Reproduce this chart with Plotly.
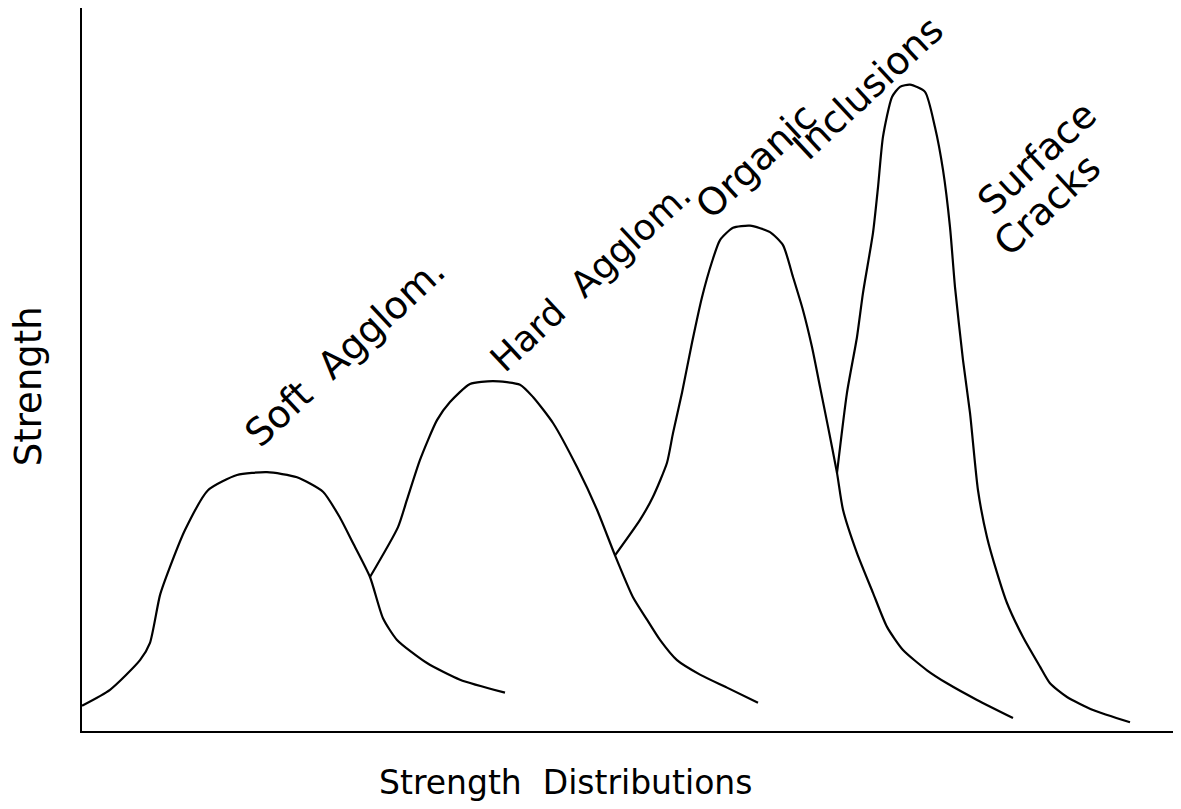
import plotly.graph_objects as go

# Strength distributions (arbitrary units)
soft_x = [0, 2.8, 5.8, 6.8, 7.8, 8.8, 10.3, 12.6, 15.5, 18.5, 21.5, 24.1, 25.8, 27.1, 28.8, 30.1, 31.5, 34.5, 37.8, 42.3]
soft_y = [3.5, 5.7, 9.8, 12.2, 18.8, 22.7, 27.8, 33.3, 35.4, 35.8, 35.1, 33.1, 29.5, 26.0, 21.3, 15.6, 12.6, 9.4, 7.1, 5.3]

hard_x = [28.8, 31.6, 32.5, 33.8, 35.5, 36.8, 38.8, 41.1, 43.8, 45.1, 47.1, 49.5, 51.5, 53.3, 55.1, 56.5, 57.8, 59.5, 61.8, 64.5, 67.6]
hard_y = [21.3, 28.2, 32.0, 37.5, 43.0, 45.5, 48.0, 48.4, 47.9, 46.2, 42.6, 36.5, 30.6, 24.3, 18.5, 15.4, 12.6, 9.8, 7.8, 6.0, 3.9]

organic_x = [53.3, 55.8, 57.1, 58.5, 59.1, 60.0, 61.0, 62.0, 63.0, 63.8, 65.1, 66.8, 68.8, 70.1, 71.1, 72.1, 73.0, 73.8, 74.6, 75.5, 76.1, 77.5, 79.1, 80.5, 82.1, 84.5, 86.5, 89.5, 93.1]
organic_y = [24.3, 29.2, 32.4, 37.1, 41.2, 46.8, 53.7, 60.0, 64.9, 67.9, 69.6, 69.9, 69.0, 67.2, 62.8, 58.2, 53.1, 47.6, 42.1, 35.7, 30.6, 24.6, 19.1, 14.4, 11.2, 8.4, 6.6, 4.3, 1.8]

cracks_x = [75.5, 76.5, 77.5, 78.1, 79.1, 79.6, 80.1, 81.0, 81.8, 82.8, 84.3, 85.3, 86.1, 86.8, 87.3, 88.1, 88.8, 89.6, 90.5, 91.5, 92.5, 94.1, 95.8, 96.8, 98.5, 101.1, 104.8]
cracks_y = [35.7, 46.8, 54.5, 60.6, 68.9, 75.2, 82.2, 87.7, 89.1, 89.4, 88.4, 83.5, 77.6, 69.7, 61.4, 51.3, 44.0, 33.3, 26.8, 21.9, 17.7, 13.0, 8.9, 6.6, 4.7, 2.9, 1.2]

label_texts = ["Soft  Agglom.", "Hard  Agglom.", "Organic", "Inclusions", "Surface", "Cracks"]
label_x = [26.3, 50.9, 67.4, 78.6, 95.5, 96.5]
label_y = [52.4, 62.8, 78.9, 88.9, 79.2, 72.8]
label_size = [38, 36, 38, 38, 38, 38]

x_title = "Strength  Distributions"
y_title = "Strength"

FONT = "DejaVu Sans"

fig = go.Figure()
for xs, ys, name in [(soft_x, soft_y, "Soft Agglom."), (hard_x, hard_y, "Hard Agglom."),
                     (organic_x, organic_y, "Organic Inclusions"), (cracks_x, cracks_y, "Surface Cracks")]:
    fig.add_trace(go.Scatter(x=xs, y=ys, mode="lines", name=name,
                             line=dict(color="black", width=2.2, shape="spline", smoothing=0.6),
                             hoverinfo="skip"))

for t, lx, ly, sz in zip(label_texts, label_x, label_y, label_size):
    fig.add_annotation(x=lx, y=ly, xref="x", yref="y", text=t, showarrow=False,
                       textangle=-43, font=dict(family=FONT, size=sz, color="black"))

fig.add_annotation(x=0.4395, y=-0.071, xref="paper", yref="paper", text=x_title, showarrow=False,
                   xanchor="center", yanchor="middle",
                   font=dict(family=FONT, size=33, color="black"))
fig.add_annotation(x=-0.049, y=0.477, xref="paper", yref="paper", text=y_title, showarrow=False,
                   textangle=-90, xanchor="center", yanchor="middle",
                   font=dict(family=FONT, size=37, color="black"))

fig.update_layout(
    width=1173, height=801,
    margin=dict(l=74, r=0, t=0, b=78),
    paper_bgcolor="white", plot_bgcolor="white",
    showlegend=False,
    xaxis=dict(range=[0, 109.9], showline=True, linecolor="black", linewidth=2,
               showgrid=False, zeroline=False, showticklabels=False, ticks=""),
    yaxis=dict(range=[0, 100], showline=True, linecolor="black", linewidth=2,
               showgrid=False, zeroline=False, showticklabels=False, ticks=""),
)

fig.write_html("out.html")
